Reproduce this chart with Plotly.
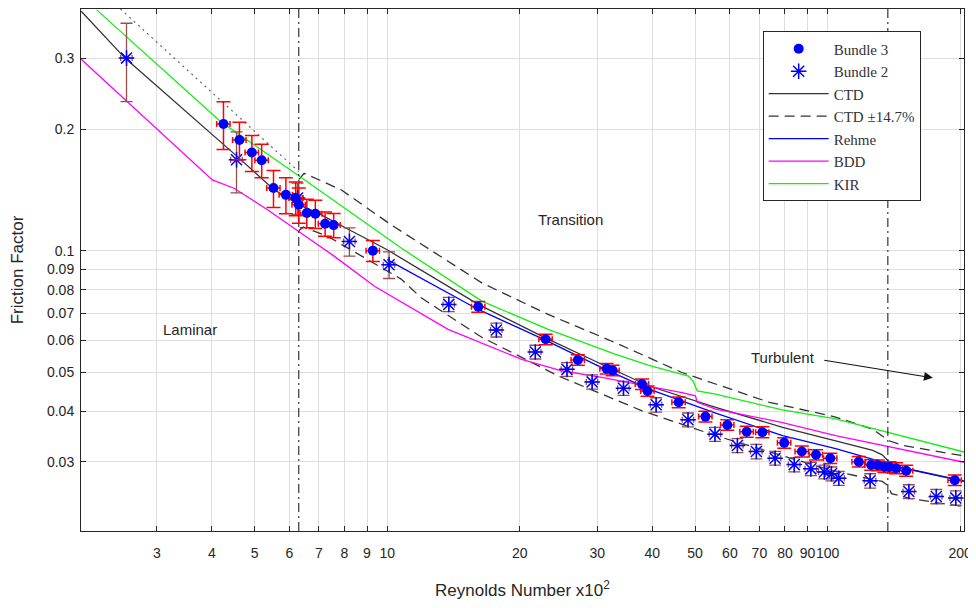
import numpy as np
import plotly.graph_objects as go

# ---------------- data (Reynolds number in units of 10^2) ----------------
bundle3_re = [4.25, 4.62, 4.93, 5.19, 5.52, 5.89, 6.20, 6.30, 6.57, 6.87, 7.23, 7.56, 9.28,
              16.1, 22.9, 27.1, 31.5, 32.5, 37.9, 39.0, 45.9, 52.8, 59.2, 65.5, 71.1,
              79.7, 87.4, 94.1, 101.4, 117.7, 125.6, 130.0, 134.6, 138.2, 143.0, 150.8, 194.4]
bundle3_f = [0.206, 0.188, 0.175, 0.1675, 0.143, 0.1375, 0.135, 0.130, 0.124, 0.1234, 0.1166, 0.1157, 0.100,
             0.0726, 0.0603, 0.0536, 0.0510, 0.0505, 0.0467, 0.0449, 0.0421, 0.0388, 0.0370, 0.0356, 0.0355,
             0.0334, 0.0318, 0.0312, 0.0306, 0.0300, 0.02945, 0.0294, 0.0291, 0.0291, 0.0289, 0.0285, 0.0270]
bundle3_ferr = [0.028, 0.020, 0.018, 0.016, 0.015, 0.014, 0.013, 0.013, 0.010, 0.010, 0.008, 0.008, 0.006,
                0.0022, 0.0018, 0.0016, 0.0015, 0.0015, 0.0014, 0.0013, 0.0013, 0.0012, 0.0011, 0.0011, 0.0011,
                0.0010, 0.0010, 0.0009, 0.0009, 0.0009, 0.0009, 0.0009, 0.0009, 0.0009, 0.0009, 0.0009, 0.0008]

bundle2_re = [2.56, 4.55, 6.26, 8.21, 10.1, 13.8, 17.7, 21.7, 25.6, 29.2, 34.4, 40.8, 48.2,
              55.5, 62.4, 68.9, 76.0, 84.0, 91.6, 98.3, 102.0, 106.0, 124.9, 152.9, 176.5, 195.4]
bundle2_f = [0.300, 0.168, 0.135, 0.1054, 0.0923, 0.0736, 0.0636, 0.0561, 0.0508, 0.0473, 0.0456, 0.0415, 0.0381,
             0.0351, 0.0329, 0.0318, 0.0306, 0.0295, 0.0288, 0.0283, 0.0280, 0.0273, 0.0269, 0.0253, 0.0246, 0.0244]
bundle2_ferr = [0.066, 0.029, 0.012, 0.0085, 0.007, 0.003, 0.0025, 0.0022, 0.002, 0.0019, 0.0018, 0.0017, 0.0015,
                0.0014, 0.0013, 0.0013, 0.0012, 0.0012, 0.0011, 0.0011, 0.0011, 0.0011, 0.0011, 0.0010, 0.0010, 0.0010]

ctd_re = [2.02, 2.54, 4.57, 5.52, 6.3, 6.95, 8.28, 10.0, 16.1, 22.8, 30.7, 39.3, 55.7, 79.0,
          104.3, 126.6, 133.0, 137.0, 142.0, 160.0, 204.0]
ctd_f = [0.392, 0.300, 0.171, 0.142, 0.130, 0.124, 0.112, 0.1005, 0.0736, 0.0609, 0.0523, 0.0462, 0.0409, 0.0365,
         0.0338, 0.0320, 0.0312, 0.0302, 0.0293, 0.0285, 0.0269]

ctd_hi_lam_re = [2.48, 6.3]
ctd_hi_lam_f = [0.397, 0.157]

ctd_hi_re = [6.3, 6.48, 7.86, 10.2, 16.4, 23.2, 32.9, 46.7, 73.7, 104.3, 126.6, 134.6, 137.8, 148.2, 204.0]
ctd_hi_f = [0.150, 0.1555, 0.1415, 0.116, 0.0832, 0.0695, 0.0592, 0.0499, 0.0421, 0.0387, 0.0361, 0.0345,
            0.0338, 0.0329, 0.0310]

ctd_lo_re = [6.3, 6.45, 7.33, 10.76, 11.95, 16.4, 24.5, 37.9, 55.7, 73.7, 102.5, 133.0, 137.0, 139.6, 154.6, 204.0]
ctd_lo_f = [0.112, 0.1145, 0.1085, 0.0850, 0.0764, 0.0610, 0.0489, 0.0401, 0.0348, 0.0317, 0.0285, 0.0268,
            0.0262, 0.0250, 0.0243, 0.0232]

rehme_re = [10.0, 16.1, 22.8, 30.7, 39.3, 55.7, 79.0, 104.3, 150.8, 204.0]
rehme_f = [0.095, 0.0715, 0.0601, 0.0513, 0.0454, 0.0396, 0.0348, 0.0323, 0.0288, 0.0268]

bdd_re = [2.02, 4.01, 4.49, 5.35, 6.37, 7.59, 9.36, 13.75, 20.2, 24.9, 30.7, 39.3, 46.7, 50.1, 50.6,
          55.7, 79.0, 104.3, 204.0]
bdd_f = [0.298, 0.1497, 0.1428, 0.1263, 0.1106, 0.0968, 0.0816, 0.0638, 0.0538, 0.0504, 0.0485, 0.0462,
         0.0445, 0.0437, 0.0421, 0.0405, 0.0375, 0.0348, 0.0299]

kir_re = [2.19, 4.01, 4.19, 6.37, 10.76, 16.4, 23.2, 32.9, 39.3, 48.3, 49.5, 50.6, 55.7, 79.0, 104.3, 204.0]
kir_f = [0.395, 0.2167, 0.2086, 0.1520, 0.1015, 0.0750, 0.0638, 0.0554, 0.0520, 0.0489, 0.0475, 0.0449,
         0.0441, 0.0403, 0.0383, 0.0317]

regime_bounds = [6.3, 137.0]

x_range = [2.018, 204.0]
y_range = [0.0202, 0.397]

x_ticks = [3, 4, 5, 6, 7, 8, 9, 10, 20, 30, 40, 50, 60, 70, 80, 90, 100, 200]
y_ticks = [0.03, 0.04, 0.05, 0.06, 0.07, 0.08, 0.09, 0.1, 0.2, 0.3]

# ---------------- styling ----------------
SANS = "Liberation Sans, Arial, sans-serif"
SERIF = "Liberation Serif, DejaVu Serif, serif"
AX = "#262626"

fig = go.Figure()

def line(x, y, color, name, dash="solid", width=1.3, show=True, rank=10, group=None):
    fig.add_trace(go.Scatter(x=x, y=y, mode="lines", name=name,
                             line=dict(color=color, width=width, dash=dash),
                             showlegend=show, legendrank=rank, legendgroup=group))

line(ctd_hi_lam_re, ctd_hi_lam_f, "#666666", "CTD+ laminar", dash="2px,4px", width=1.2, show=False)
line(ctd_re, ctd_f, "#333333", "CTD", rank=3)
line(ctd_hi_re, ctd_hi_f, "#333333", "CTD ±14.7%", dash="10px,6px", rank=4, group="band")
line(ctd_lo_re, ctd_lo_f, "#333333", "CTD ±14.7%", dash="10px,6px", show=False, group="band")
line(rehme_re, rehme_f, "#0000ff", "Rehme", rank=5)
line(bdd_re, bdd_f, "#ff00ff", "BDD", rank=6)
line(kir_re, kir_f, "#11ee11", "KIR", rank=7)

for xb in regime_bounds:
    fig.add_trace(go.Scatter(x=[xb, xb], y=y_range, mode="lines", showlegend=False,
                             line=dict(color="#222222", width=1.1, dash="9px,4px,2px,4px"),
                             hoverinfo="skip"))

fig.add_trace(go.Scatter(
    x=bundle2_re, y=bundle2_f, mode="markers", name="Bundle 2", legendrank=2,
    marker=dict(symbol="asterisk-open", size=13, color="#0000ff", line=dict(color="#0000ff", width=1.5)),
    error_y=dict(type="data", array=bundle2_ferr, color="#96504a", thickness=1.3, width=6),
    error_x=dict(type="percent", value=3, color="#96504a", thickness=1.3, width=3),
))
fig.add_trace(go.Scatter(
    x=bundle3_re, y=bundle3_f, mode="markers", name="Bundle 3", legendrank=1,
    marker=dict(symbol="circle", size=10, color="#0000ff"),
    error_y=dict(type="data", array=bundle3_ferr, color="#ff0000", thickness=1.5, width=7),
    error_x=dict(type="percent", value=3.5, color="#ff0000", thickness=1.5, width=3),
))

axis_common = dict(type="log", showline=True, linecolor=AX, linewidth=1, mirror="ticks",
                   ticks="inside", ticklen=5, tickcolor=AX, showgrid=True, gridcolor="#dedede",
                   gridwidth=1, zeroline=False, automargin=False, tickangle=0,
                   tickfont=dict(family=SANS, size=14, color=AX))

fig.update_xaxes(**axis_common, range=list(np.log10(x_range)), tickvals=x_ticks,
                 ticktext=[str(t) for t in x_ticks], ticklabelstandoff=9,
                 title=dict(text="Reynolds Number x10<sup>2</sup>", font=dict(family=SANS, size=17, color=AX),
                            standoff=25))
fig.update_yaxes(**axis_common, range=list(np.log10(y_range)), tickvals=y_ticks,
                 ticktext=[str(t) for t in y_ticks], ticklabelstandoff=3,
                 title=dict(text="Friction Factor", font=dict(family=SANS, size=17, color=AX), standoff=36))

ann_font = dict(family=SANS, size=15, color=AX)
fig.add_annotation(x=np.log10(3.57), y=np.log10(0.0636), text="Laminar", showarrow=False, font=ann_font)
fig.add_annotation(x=np.log10(26.1), y=np.log10(0.1197), text="Transition", showarrow=False, font=ann_font)
fig.add_annotation(x=np.log10(79.1), y=np.log10(0.0545), text="Turbulent", showarrow=False, font=ann_font)
fig.add_annotation(x=np.log10(173.3), y=np.log10(0.0484), ax=np.log10(97.5), ay=np.log10(0.0536),
                   axref="x", ayref="y", xref="x", yref="y", text="", showarrow=True,
                   arrowhead=2, arrowsize=1.6, arrowwidth=1.1, arrowcolor="#111111")

# page has an 8 px body margin, so the figure is sized/offset to land on the reference pixels
fig.update_layout(
    width=968, height=592,
    margin=dict(l=73, r=12, t=1, b=69),
    paper_bgcolor="white", plot_bgcolor="white",
    legend=dict(x=0.772, y=0.957, xanchor="left", yanchor="top", bgcolor="white",
                bordercolor=AX, borderwidth=1, font=dict(family=SERIF, size=15, color="#333333"),
                itemwidth=60, tracegroupgap=0, traceorder="normal"),
)

fig.write_html("out.html")
